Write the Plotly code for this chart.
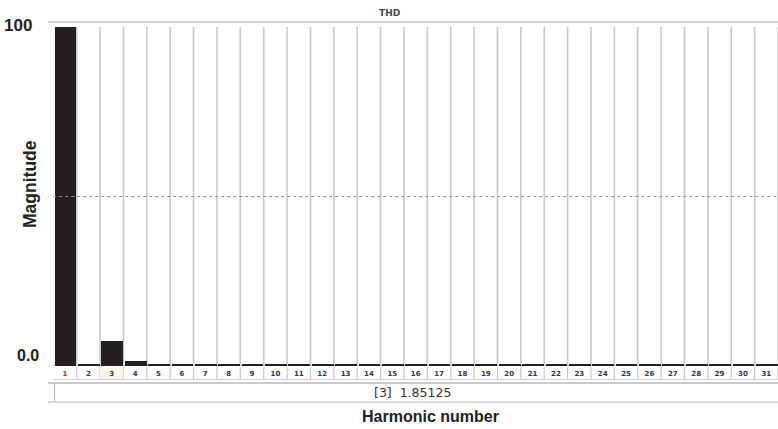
import plotly.graph_objects as go

harmonics = list(range(1, 32))
magnitude = [100, 0.4, 7.4, 1.4] + [0.4] * 27
y_tick_vals = [100, 0]
y_tick_text = ["100", "0.0"]
title_text = "THD"
readout_text = "[3]  1.85125"
x_title = "Harmonic number"
y_title = "Magnitude"

W, H = 778, 429
def py(px):  # pixel row -> paper fraction
    return 1 - px / H

x_left = 53.3 / W
y_bottom_px, y_top_px = 366, 22
y_max = 100 * (y_bottom_px - y_top_px) / (y_bottom_px - 27)

ticktext = []
for h in harmonics:
    if h == 1:
        ticktext.append(f"<span style='color:#b03030'><b>{h}</b></span>")
    else:
        ticktext.append(f"<span style='color:#2b3358'><b>{h}</b></span>")

fig = go.Figure()
fig.add_trace(go.Bar(
    x=harmonics, y=magnitude, width=0.93, offset=-0.43,
    marker=dict(color="#231f20", line=dict(width=0)),
    hoverinfo="x+y",
))

shapes = []
# vertical separators in plot area and label row
for h in harmonics:
    shapes.append(dict(type="line", xref="x", yref="y", x0=h + 0.5, x1=h + 0.5,
                       y0=0, y1=100, line=dict(color="#c8c8c8", width=1.6), layer="below"))
    shapes.append(dict(type="line", xref="x", yref="paper", x0=h + 0.5, x1=h + 0.5,
                       y0=py(379), y1=py(367.5), line=dict(color="#c8c8c8", width=1.2), layer="below"))
# selected label box (harmonic 3)
shapes.append(dict(type="rect", xref="x", yref="paper", x0=2.5, x1=3.5,
                   y0=py(379), y1=py(367.5), fillcolor="#fbf6e6", line=dict(width=0), layer="below"))
# baseline under bars
shapes.append(dict(type="line", xref="paper", yref="y", x0=x_left, x1=1, y0=0, y1=0,
                   line=dict(color="#8a8a8a", width=1), layer="below"))
# top line
shapes.append(dict(type="line", xref="paper", yref="paper", x0=48 / W, x1=1,
                   y0=py(22), y1=py(22), line=dict(color="#c4c4c4", width=1.5)))
# dashed midline at 50
shapes.append(dict(type="line", xref="paper", yref="y", x0=x_left, x1=1, y0=50, y1=50,
                   line=dict(color="#8f8f8f", width=1, dash="dot")))
# label row bottom line
shapes.append(dict(type="line", xref="paper", yref="paper", x0=x_left, x1=1,
                   y0=py(379.5), y1=py(379.5), line=dict(color="#cfcfcf", width=1)))
# readout box
shapes.append(dict(type="line", xref="paper", yref="paper", x0=48 / W, x1=1,
                   y0=py(383), y1=py(383), line=dict(color="#cccccc", width=2)))
shapes.append(dict(type="line", xref="paper", yref="paper", x0=54.5 / W, x1=54.5 / W,
                   y0=py(402), y1=py(383), line=dict(color="#bbbbbb", width=1.2)))
shapes.append(dict(type="line", xref="paper", yref="paper", x0=48 / W, x1=1,
                   y0=py(402), y1=py(402), line=dict(color="#cccccc", width=1.5)))

annotations = [
    dict(text=f"<b>{title_text}</b>", x=390 / W, y=py(13), xref="paper", yref="paper", showarrow=False,
         font=dict(family="DejaVu Sans", size=9, color="#4a4a4a"), xanchor="center", yanchor="middle"),
    dict(text=f"<b>{y_tick_text[0]}</b>", x=34 / W, y=py(25), xref="paper", yref="paper", showarrow=False,
         font=dict(family="Liberation Sans", size=17, color="#222222"), xanchor="right", yanchor="middle"),
    dict(text=f"<b>{y_tick_text[1]}</b>", x=41 / W, y=py(355), xref="paper", yref="paper", showarrow=False,
         font=dict(family="Liberation Sans", size=16, color="#222222"), xanchor="right", yanchor="middle"),
    dict(text=f"<b>{y_title}</b>", x=30 / W, y=py(184), xref="paper", yref="paper", showarrow=False,
         textangle=-90, font=dict(family="Liberation Sans", size=17.5, color="#222222"),
         xanchor="center", yanchor="middle"),
    dict(text=readout_text, x=412 / W, y=py(392.5), xref="paper", yref="paper", showarrow=False,
         font=dict(family="DejaVu Sans", size=12.5, color="#333333"), xanchor="center", yanchor="middle"),
    dict(text=f"<b>{x_title}</b>", x=430 / W, y=py(416), xref="paper", yref="paper", showarrow=False,
         font=dict(family="Liberation Sans", size=16, color="#222222"), xanchor="center", yanchor="middle"),
]

fig.update_layout(
    width=W, height=H, margin=dict(l=0, r=0, t=0, b=0),
    paper_bgcolor="white", plot_bgcolor="white",
    showlegend=False, bargap=0,
    shapes=shapes, annotations=annotations,
    xaxis=dict(domain=[x_left, 1], range=[0.5, 31.5], tickmode="array",
               tickvals=harmonics, ticktext=ticktext, showgrid=False, zeroline=False,
               showline=False, ticks="", tickfont=dict(family="DejaVu Sans", size=7),
               ticklabelstandoff=2, fixedrange=True),
    yaxis=dict(domain=[py(y_bottom_px), py(y_top_px)], range=[0, y_max],
               showticklabels=False, showgrid=False, zeroline=False, showline=False,
               tickvals=y_tick_vals, fixedrange=True),
)

fig.write_html("out.html")
